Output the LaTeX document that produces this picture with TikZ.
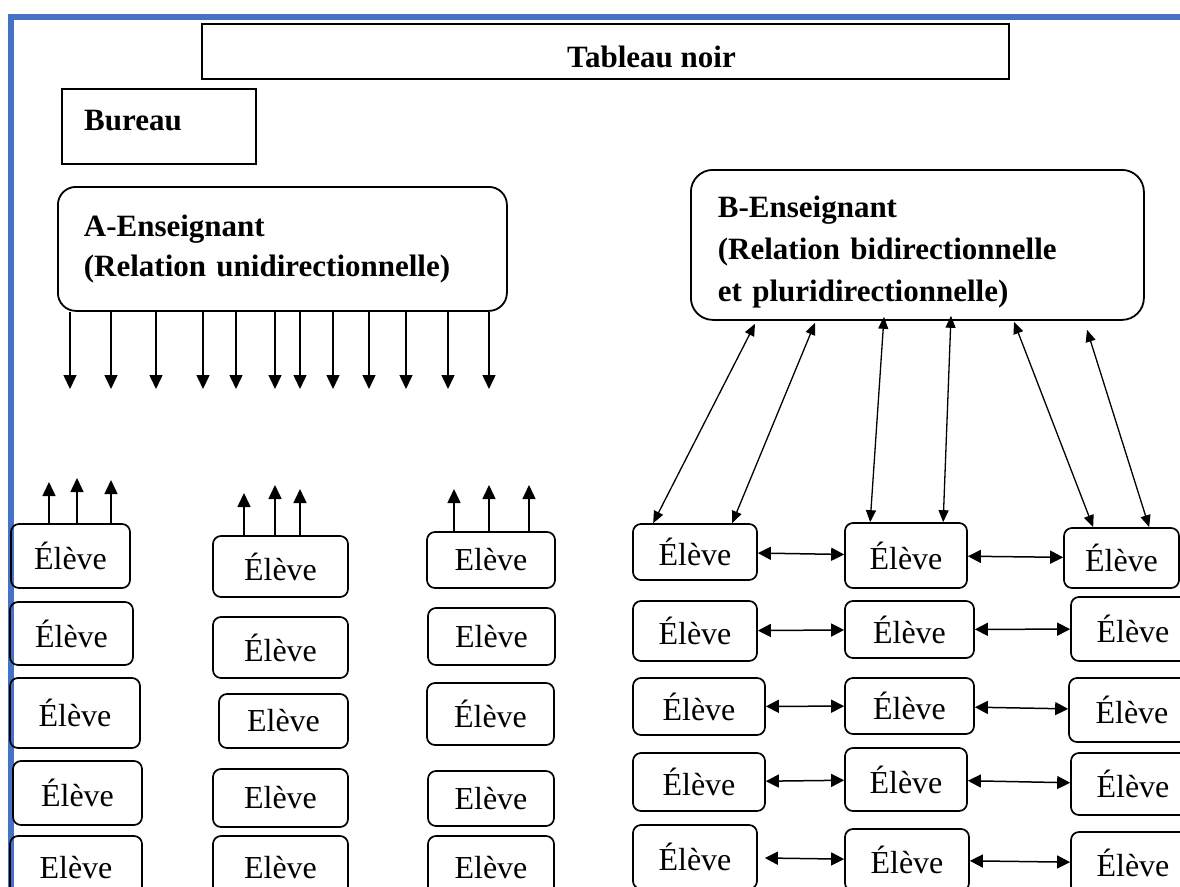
\documentclass[tikz,border=0pt]{standalone}
\usepackage{fontspec}
\setmainfont{Liberation Serif}
\usetikzlibrary{arrows.meta}
\definecolor{frameblue}{RGB}{68,114,196}
\newcommand{\pupil}[6]{\node[pupilbox, minimum width=#4pt, minimum height=#5pt] (#1) at (#2,#3) {#6};}
\begin{document}
\begin{tikzpicture}[x=1pt,y=-1pt,
  pupilbox/.style={draw, line width=1.7pt, rounded corners=8pt, inner sep=0pt,
    font=\fontsize{32}{38}\selectfont},
  plainbox/.style={draw, line width=1.8pt, inner sep=0pt,
    font=\fontsize{31}{37}\selectfont\bfseries},
  teacherbox/.style={draw, line width=1.8pt, anchor=north west, align=left, inner ysep=0pt},
  varr/.style={-{Triangle[length=14pt,width=13pt]}, line width=1.5pt},
  harr/.style={{Triangle[length=13pt,width=13pt]}-{Triangle[length=13pt,width=13pt]}, line width=1.5pt},
  darr/.style={{Triangle[length=12pt,width=10pt]}-{Triangle[length=12pt,width=10pt]}, line width=1.3pt}]
\useasboundingbox (0,0) rectangle (1180,886);
\clip (0,0) rectangle (1180,886);
\fill[white] (0,0) rectangle (1180,886);

% blue frame
\draw[frameblue, line width=6pt, line join=miter] (11,900) -- (11,17) -- (1190,17);

% top boxes
\node[plainbox, minimum width=807pt, minimum height=55pt, text height=31pt, text depth=0pt]
  (tab) at (605.5,51.5) {\hspace*{92pt}Tableau noir};
\node[plainbox, minimum width=194pt, minimum height=75pt, text height=20.5pt, text depth=13pt]
  (bureau) at (159,126.5) {Bureau\hspace*{52pt}};

% teacher boxes
\node[teacherbox, rounded corners=18pt, minimum width=449pt, minimum height=124pt,
  text width=397pt, inner xsep=26pt, font=\fontsize{31}{40}\selectfont\bfseries]
  (abox) at (57,186) {A-Enseignant\\(Relation unidirectionnelle)};
\node[teacherbox, rounded corners=22pt, minimum width=453pt, minimum height=150pt,
  text width=399pt, inner xsep=27pt, font=\fontsize{31}{42}\selectfont\bfseries]
  (bbox) at (690,169) {\rule{0pt}{35.6pt}B-Enseignant\\(Relation bidirectionnelle\\et pluridirectionnelle)};

% left students
\pupil{l11}{70.5}{556}{119}{64}{Élève}
\pupil{l12}{71.5}{633.5}{123}{63}{Élève}
\pupil{l13}{75}{713}{130}{70}{Élève}
\pupil{l14}{77.5}{793}{129}{64}{Élève}
\pupil{l15}{76}{868}{132}{64}{Elève}
\pupil{l21}{280.5}{566.5}{135}{61}{Élève}
\pupil{l22}{280.5}{647.5}{135}{61}{Élève}
\pupil{l23}{283.5}{721}{129}{54}{Elève}
\pupil{l24}{280.5}{798}{135}{58}{Elève}
\pupil{l25}{280.5}{868}{135}{64}{Elève}
\pupil{l31}{491}{560}{128}{56}{Elève}
\pupil{l32}{491.5}{636.5}{127}{57}{Elève}
\pupil{l33}{490.5}{714}{127}{62}{Élève}
\pupil{l34}{491}{798.5}{126}{55}{Elève}
\pupil{l35}{491}{868}{126}{64}{Elève}

% right students
\pupil{ra1}{695}{552}{124}{56}{Élève}
\pupil{ra2}{695}{631}{124}{60}{Élève}
\pupil{ra3}{699}{706.5}{132}{57}{Élève}
\pupil{ra4}{699}{782}{132}{58}{Élève}
\pupil{ra5}{695}{857}{124}{64}{Élève}
\pupil{rb1}{906}{555.5}{122}{65}{Élève}
\pupil{rb2}{909.5}{629.5}{129}{57}{Élève}
\pupil{rb3}{909.5}{706}{129}{56}{Élève}
\pupil{rb4}{906}{779.5}{122}{63}{Élève}
\pupil{rb5}{907}{860}{124}{62}{Élève}
\pupil{rc1}{1121.5}{558}{115}{60}{Élève}
\pupil{rc2}{1133}{629}{124}{64}{Élève}
\pupil{rc3}{1132}{710}{126}{64}{Élève}
\pupil{rc4}{1133}{784}{124}{62}{Élève}
\pupil{rc5}{1133}{863}{124}{62}{Élève}

% downward arrows from teacher A
\foreach \n/\xx in {1/70,2/111,3/156,4/203,5/236,6/275,7/300,8/333,9/369,10/406,11/448,12/489}{
  \coordinate (d\n) at (\xx,389);
  \draw[varr] (d\n |- abox.south) -- (d\n);
}

% upward arrows from left students
\coordinate (u11) at (49,482);
\coordinate (u12) at (77,478);
\coordinate (u13) at (111,480);
\coordinate (u21) at (244,493);
\coordinate (u22) at (275,485);
\coordinate (u23) at (300,489);
\coordinate (u31) at (454,489);
\coordinate (u32) at (489,485);
\coordinate (u33) at (529,485);
\foreach \c in {u11,u12,u13}{\draw[varr] (\c |- l11.north) -- (\c);}
\foreach \c in {u21,u22,u23}{\draw[varr] (\c |- l21.north) -- (\c);}
\foreach \c in {u31,u32,u33}{\draw[varr] (\c |- l31.north) -- (\c);}

% teacher B <-> students
\draw[darr] ([xshift=65pt,yshift=-3pt]bbox.south west) -- ([xshift=21pt]ra1.north west);
\draw[darr] ([xshift=125pt,yshift=-2pt]bbox.south west) -- ([xshift=100pt]ra1.north west);
\draw[darr] ([xshift=194pt,yshift=4pt]bbox.south west) -- ([xshift=26pt]rb1.north west);
\draw[darr] ([xshift=261pt,yshift=5pt]bbox.south west) -- ([xshift=99pt]rb1.north west);
\draw[darr] ([xshift=324pt,yshift=-1pt]bbox.south west) -- ([xshift=30pt]rc1.north west);
\draw[darr] ([xshift=397pt,yshift=-9pt]bbox.south west) -- ([xshift=86pt]rc1.north west);

% student <-> student
\foreach \r in {1,2,3,4}{
  \draw[harr] (ra\r) -- (rb\r);
  \draw[harr] (rb\r) -- (rc\r);
}
\draw[harr, shorten <=7pt] (ra5) -- (rb5);
\draw[harr] (rb5) -- (rc5);
\end{tikzpicture}
\end{document}
